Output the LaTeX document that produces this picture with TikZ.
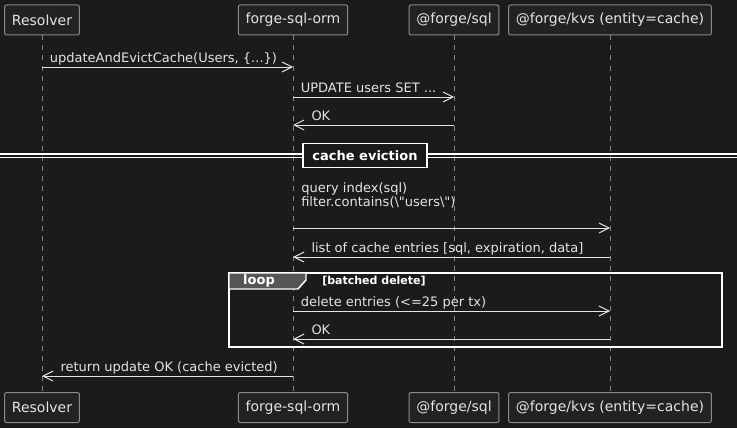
\documentclass[tikz,border=0pt]{standalone}
\usepackage{fontspec}
\newfontfamily\umlfont{DejaVu Sans}
\usetikzlibrary{arrows.meta}

\definecolor{bgdark}{HTML}{1B1B1B}
\definecolor{boxfill}{HTML}{222222}
\definecolor{boxline}{HTML}{8A8A8A}
\definecolor{lifegray}{HTML}{858585}
\definecolor{msgfg}{HTML}{E4E4E4}
\definecolor{tabgray}{HTML}{555555}

\tikzset{
  actor/.style={draw=boxline, fill=boxfill, rounded corners=1.5pt, line width=0.75pt,
    font=\umlfont\fontsize{10.5}{12}\selectfont, inner xsep=5.5pt, minimum height=22.5pt},
  lifeline/.style={draw=lifegray, line width=0.75pt, dash pattern=on 3.75pt off 3.75pt},
  msg/.style={draw=msgfg, line width=0.75pt, -{Straight Barb[length=7.5pt,width=7.5pt]}},
  lblright/.style={pos=0, anchor=base west, xshift=5.5pt, yshift=3.5pt, inner sep=0pt},
  lblleft/.style={pos=1, anchor=base west, xshift=13.5pt, yshift=3.5pt, inner sep=0pt},
  frameline/.style={draw=white, line width=1.1pt}
}

\begin{document}
\begin{tikzpicture}[x=0.75pt,y=-0.75pt, font=\umlfont\fontsize{9.75}{12}\selectfont, text=msgfg]

  \fill[bgdark] (0,0) rectangle (737,428);
  \useasboundingbox (0,0) rectangle (737,428);

  % participants, top and bottom
  \begin{scope}[every node/.style={actor}]
    \node (res)  at (42,20)    {Resolver};
    \node (orm)  at (293,20)   {forge-sql-orm};
    \node (sql)  at (454,20)   {@forge/sql};
    \node (kvs)  at (610,20)   {@forge/kvs (entity=cache)};
    \node (resB) at (42,407.5)  {Resolver};
    \node (ormB) at (293,407.5) {forge-sql-orm};
    \node (sqlB) at (454,407.5) {@forge/sql};
    \node (kvsB) at (610,407.5) {@forge/kvs (entity=cache)};
  \end{scope}

  % lifelines
  \foreach \p in {res,orm,sql,kvs}
    \draw[lifeline] (\p.south) -- (\p B.north);

  % rows of the messages
  \coordinate (r1) at (0,67);
  \coordinate (r2) at (0,97);
  \coordinate (r3) at (0,125);
  \coordinate (r4) at (0,228);
  \coordinate (r5) at (0,257);
  \coordinate (r6) at (0,311);
  \coordinate (r7) at (0,339);
  \coordinate (r8) at (0,376);

  % divider
  \draw[white, line width=1.1pt] (0,154) -- (737,154) (0,157.5) -- (737,157.5);
  \node[draw=white, fill=black!90, line width=1.1pt, minimum width=93pt, minimum height=18pt,
        inner sep=0pt, font=\umlfont\bfseries\fontsize{9.75}{12}\selectfont, text=white]
        (evict) at (365,155.5) {cache eviction};

  % loop frame
  \draw[frameline] (229,273) rectangle (722,347);
  \filldraw[frameline, fill=tabgray] (229,273) -- (306,273) -- (306,280) -- (298,289) -- (229,289) -- cycle;
  \node[font=\umlfont\bfseries\fontsize{9.75}{12}\selectfont, text=white] (looptag) at (259,281) {loop};
  \node[anchor=west, inner sep=0pt, font=\umlfont\bfseries\fontsize{8.25}{10}\selectfont, text=white]
        (loopcond) at (322,281) {[batched delete]};

  % messages
  \begin{scope}[every edge/.style={msg}]
    \path (res |- r1) edge node[lblright] {updateAndEvictCache(Users, \{...\})} (orm |- r1);
    \path (orm |- r2) edge node[lblright] {UPDATE users SET ...} (sql |- r2);
    \path (sql |- r3) edge node[lblleft] {OK} (orm |- r3);
    \path (orm |- r4) edge (kvs |- r4);
    \path (kvs |- r5) edge node[lblleft] {list of cache entries [sql, expiration, data]} (orm |- r5);
    \path (orm |- r6) edge node[lblright] {delete entries (<=25 per tx)} (kvs |- r6);
    \path (kvs |- r7) edge node[lblleft] {OK} (orm |- r7);
    \path (orm |- r8) edge node[lblleft] {return update OK (cache evicted)} (res |- r8);
  \end{scope}

  \node[anchor=base west, inner sep=0pt, align=left, font=\umlfont\fontsize{9.75}{10.5}\selectfont]
    (querytxt) at (301,206)
    {query index(sql)\\filter.contains(\textbackslash"users\textbackslash")};

\end{tikzpicture}
\end{document}
